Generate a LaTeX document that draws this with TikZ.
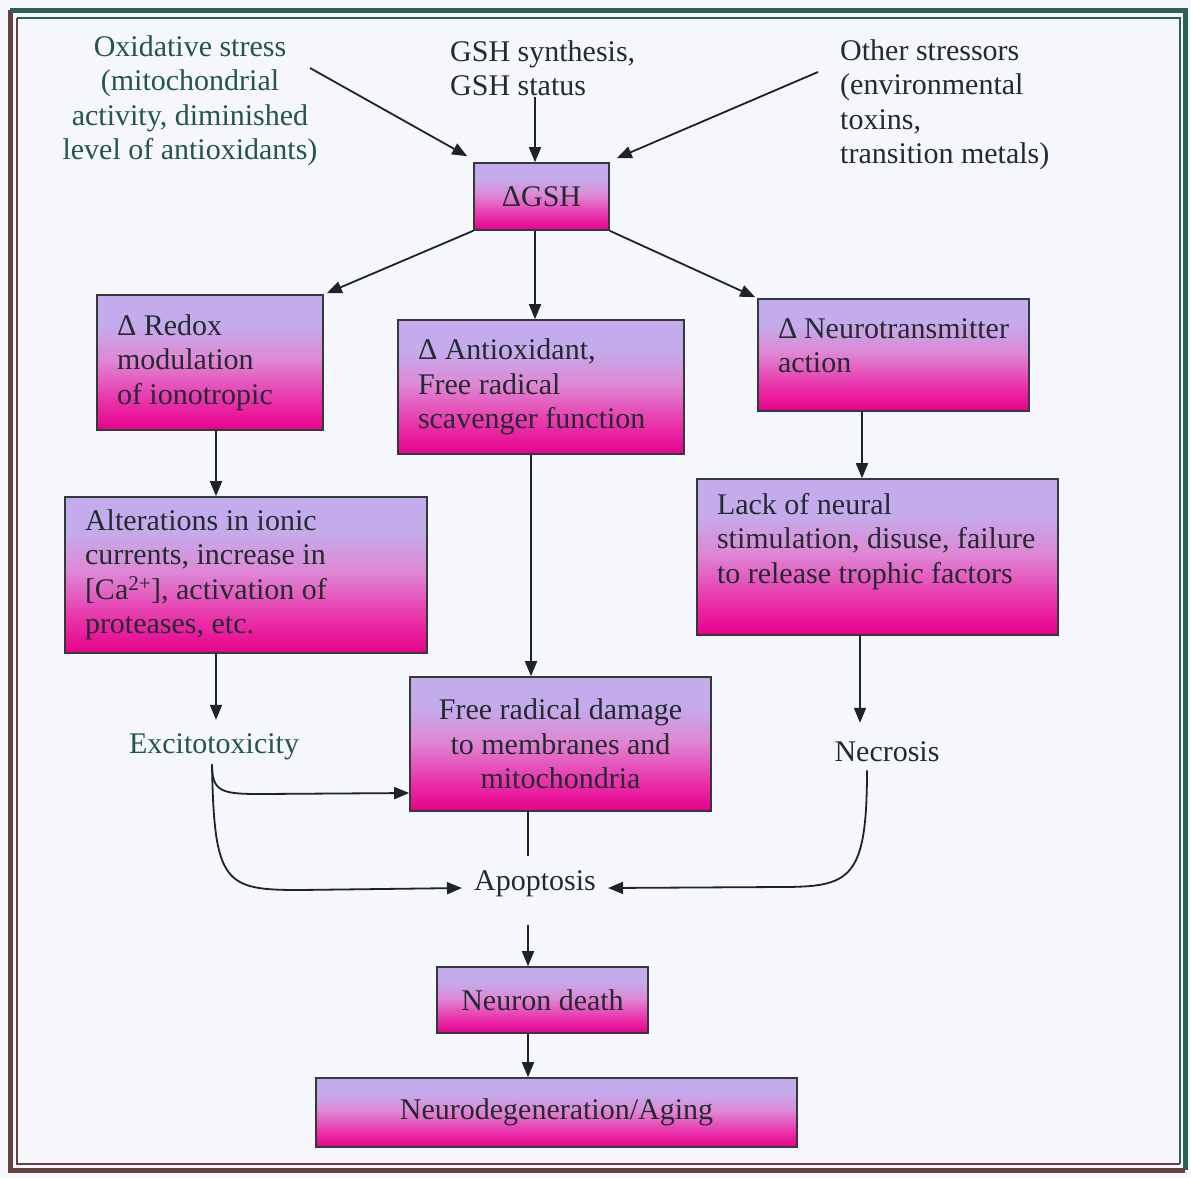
\documentclass[tikz,border=0pt]{standalone}
\usepackage{fontspec}
\setmainfont{Liberation Serif}
\usetikzlibrary{arrows.meta}
\definecolor{bg}{RGB}{245,247,252}
\definecolor{magA}{RGB}{230,0,140}
\definecolor{magB}{RGB}{234,50,170}
\definecolor{pinkM}{RGB}{222,135,212}
\definecolor{lavA}{RGB}{196,172,236}
\definecolor{txt}{RGB}{35,42,48}
\definecolor{tealtxt}{RGB}{35,85,78}
\definecolor{boxline}{RGB}{50,58,58}
\definecolor{lineC}{RGB}{30,35,40}
\definecolor{frameG}{RGB}{45,95,85}
\definecolor{frameB}{RGB}{100,65,65}
\pgfdeclareverticalshading{boxshade}{100bp}{color(0bp)=(magA); color(25bp)=(magA); color(36bp)=(magB); color(51bp)=(pinkM); color(64bp)=(lavA); color(75bp)=(lavA); color(100bp)=(lavA)}
\tikzset{
  fnt/.style={font=\fontsize{30}{34.5}\selectfont},
  gbox/.style={fnt, draw=boxline, line width=1.6pt, shading=boxshade, inner xsep=20pt, inner ysep=0pt, text=txt},
  lbox/.style={gbox, align=left, execute at begin node={\spaceskip=0pt\xspaceskip=0pt\hyphenpenalty=10000\exhyphenpenalty=10000\relax}},
  cbox/.style={gbox, align=center},
  plain/.style={fnt, inner sep=0pt, text=txt},
  arr/.style={draw=lineC, line width=1.8pt, -{Triangle[length=15pt,width=12pt]}},
  ln/.style={draw=lineC, line width=1.8pt}
}
\begin{document}
\begin{tikzpicture}[x=1pt,y=-1pt]
\fill[bg] (0,0) rectangle (1191,1178);
\useasboundingbox (0,0) rectangle (1191,1178);
% frame
\draw[frameB, line width=5pt] (10,10) -- (10,1170) -- (1185,1170);
\draw[frameG, line width=5pt] (10,10) -- (1185,10) -- (1185,1170);
\draw[frameB, line width=1.5pt] (17,18) -- (17,1164) -- (1180,1164);
\draw[frameG, line width=1.5pt] (17,18) -- (1180,18) -- (1180,1164);

% text labels
\node[plain, text=tealtxt, align=center] (oxs) at (190,101) {Oxidative stress\\(mitochondrial\\activity, diminished\\level of antioxidants)};
\node[plain, align=left, anchor=west] (gshs) at (450,68) {GSH synthesis,\\GSH status};
\node[plain, align=left, anchor=west] (other) at (840,105) {Other stressors\\(environmental\\toxins,\\transition metals)};

% boxes
\node[cbox, minimum width=135pt, minimum height=67pt] (gsh) at (541.5,196.5) {ΔGSH};
\node[lbox, text width=186pt, minimum height=135pt] (redox) at (210,362.5) {Δ Redox\\modulation\\of ionotropic};
\node[lbox, text width=246pt, minimum height=134pt] (antiox) at (541,387) {Δ Antioxidant,\\Free radical\\scavenger function};
\node[lbox, text width=231pt, minimum height=112pt, text height=21pt, text depth=55pt] (neuro) at (893.5,355) {Δ~Neurotransmitter\\action};
\node[lbox, text width=322pt, minimum height=156pt] (alter) at (246,575) {Alterations in ionic\\currents, increase in\\{[}Ca\textsuperscript{2+}{]}, activation of\\proteases, etc.};
\node[lbox, text width=321pt, minimum height=156pt, text height=21pt, text depth=107pt] (lack) at (877.5,557) {Lack of neural\\stimulation,~disuse,~failure\\to release trophic factors};
\node[cbox, minimum width=301pt, minimum height=134pt] (frd) at (560.5,744) {Free radical damage\\to membranes and\\mitochondria};
\node[cbox, minimum width=211pt, minimum height=66pt] (ndeath) at (542.5,1000) {Neuron death};
\node[cbox, minimum width=481pt, minimum height=69pt] (ndeg) at (556.5,1112.5) {Neurodegeneration/Aging};

\node[plain, text=tealtxt] (excit) at (214,747) {Excitotoxicity};
\node[plain] (necr) at (887,752) {Necrosis};
\node[plain] (apop) at (535,884) {Apoptosis};

% connectors
\coordinate (c1) at (310,68);
\coordinate (c2) at (535,97);
\coordinate (c3) at (818,72);
\draw[arr] (c1) -- ([shift={(-6,-6)}]gsh.north west);
\draw[arr] (c2) -- (c2 |- gsh.north);
\draw[arr] (c3) -- ([shift={(7,-4)}]gsh.north east);
\draw[arr] (gsh.south west) -- ([shift={(3,-1)}]redox.north east);
\draw[arr] ([xshift=-6.5]gsh.south) -- ([xshift=-6.5]gsh.south |- antiox.north);
\draw[arr] (gsh.south east) -- ([shift={(-2,-1)}]neuro.north west);
\draw[arr] ([xshift=6]redox.south) -- ([xshift=6]redox.south |- alter.north);
\draw[arr] ([xshift=-31.5]neuro.south) -- ([xshift=-31.5]neuro.south |- lack.north);
\draw[arr] ([xshift=-10]antiox.south) -- ([xshift=-10]antiox.south |- frd.north);
\draw[arr] ([xshift=-30]alter.south) -- ([xshift=-30,yshift=-66]alter.south);
\draw[arr] ([xshift=-17.5]lack.south) -- ([xshift=-17.5,yshift=-87]lack.south);
\coordinate (ex0) at ([xshift=-2,yshift=-4]excit.south);
\draw[arr] (ex0) .. controls +(0,28) and +(-40,0) .. (262,794) -- ([yshift=-49]frd.west);
\draw[arr] (ex0) .. controls +(2,120) and +(-75,0) .. (300,890) -- ([xshift=-12,yshift=-4]apop.west);
\draw[ln] ([xshift=-32.5]frd.south) -- ([xshift=-32.5,yshift=-44]frd.south);
\coordinate (nc0) at ([xshift=-20,yshift=-8]necr.south);
\draw[arr] (nc0) .. controls +(0,110) and +(70,0) .. (780,887) -- ([xshift=12,yshift=-4]apop.east);
\draw[arr] ([xshift=-7,yshift=-28]apop.south) -- ([xshift=-14.5]ndeath.north);
\draw[arr] ([xshift=-14.5]ndeath.south) -- ([xshift=-14.5]ndeath.south |- ndeg.north);
\end{tikzpicture}
\end{document}
